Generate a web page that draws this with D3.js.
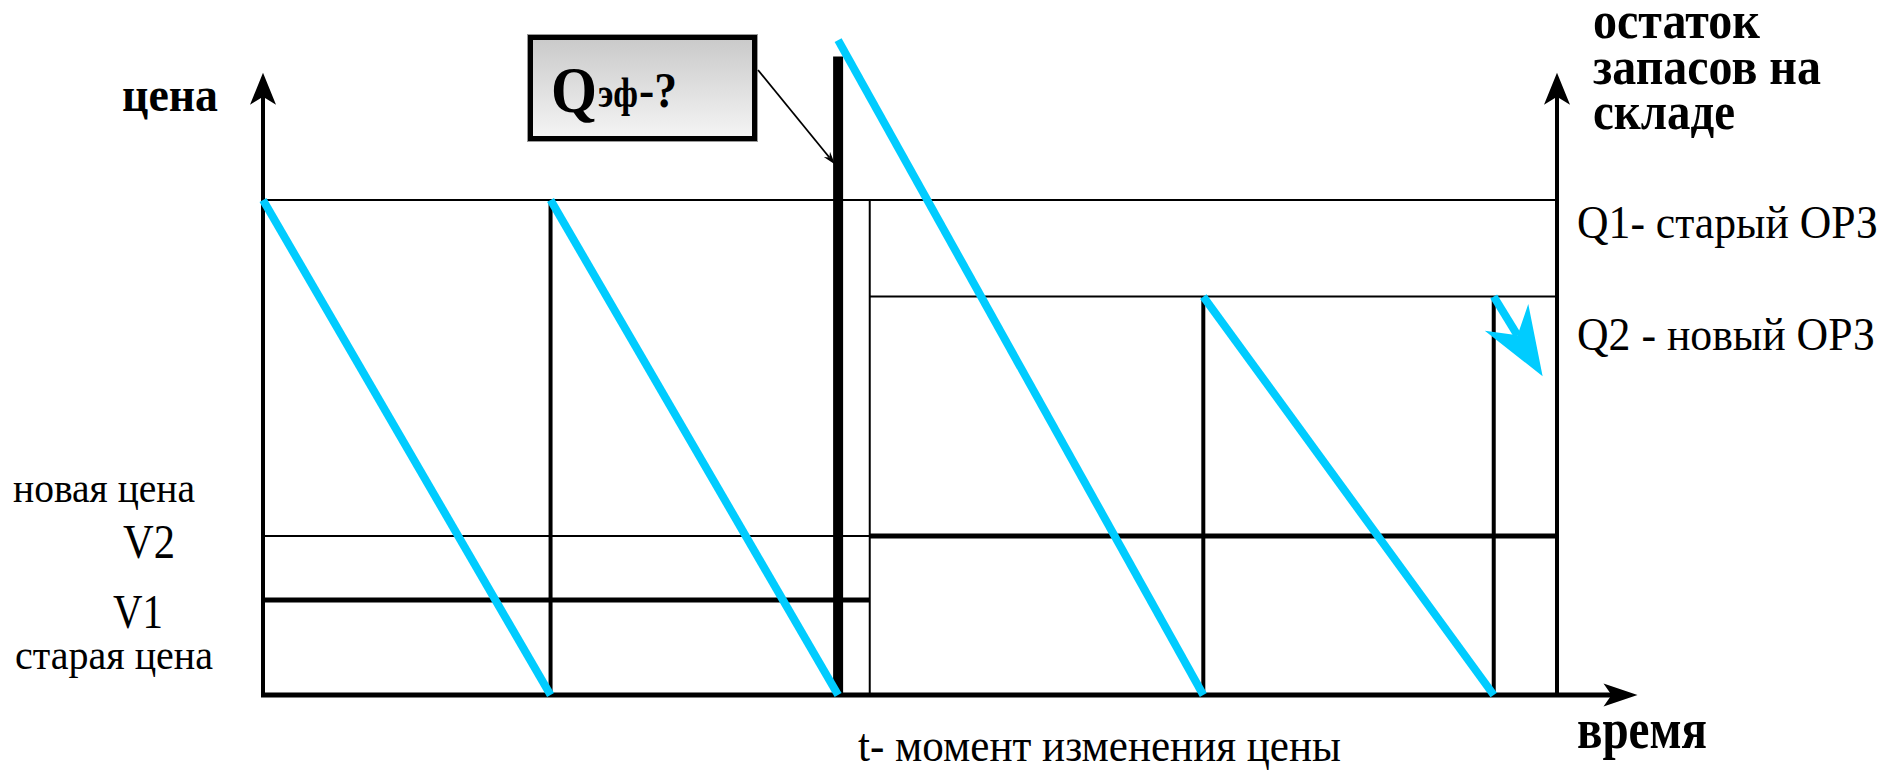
<!DOCTYPE html>
<html>
<head>
<meta charset="utf-8">
<script src="https://cdn.jsdelivr.net/npm/d3@7"></script>
<style>
  body{margin:0;background:#fff;}
  svg{display:block;}
  text{font-family:"Liberation Serif","Times New Roman",serif;fill:#000;}
</style>
</head>
<body>
<div id="container"></div>
<script>
// time along the bottom axis (days)
let tEnd = 45;            // right axis stands here
let tArrow = 47.8;        // tip of the time arrow
let tPriceChange = 21.1;  // moment the price changes

// stock levels (right axis)
let Q1 = 100;
let Q2 = 80.5;
let qAxisTop = 125.7;
let qEffTop = 129;        // top of the thick "Qэф" bar

// blue sawtooth: stock running down between deliveries
let stockStart = [0, 10, 20, 32.7];
let stockStartLevel = [100, 100, 132.3, 80.5];
let stockEnd = [10, 20, 32.7, 42.8];
// last piece, cut off and drawn as an arrow
let tailStart = [42.8, 80.5];
let tailEnd = [44.5, 64.4];

// prices (left axis, same height scale)
let V1 = 19.2;
let V2 = 32.1;

let w = 1894;
let h = 770;

let viz = d3.select("#container")
  .append("svg")
    .attr("width", w)
    .attr("height", h)
;

let xScale = d3.scaleLinear().domain([0, tEnd]).range([263, 1557]);
let yScale = d3.scaleLinear().domain([0, Q1]).range([695, 200]);

let blue = "#00ccff";

// arrow head polygon: tip, wing, notch, wing
function arrowHead(tip, from, back, half, notch){
  let dx = tip[0]-from[0], dy = tip[1]-from[1];
  let len = Math.sqrt(dx*dx+dy*dy);
  let ux = dx/len, uy = dy/len;
  let px = -uy, py = ux;
  let bx = tip[0]-ux*back, by = tip[1]-uy*back;
  return [
    tip,
    [bx+px*half, by+py*half],
    [tip[0]-ux*notch, tip[1]-uy*notch],
    [bx-px*half, by-py*half]
  ];
}

function drawLine(g, x1, y1, x2, y2, sw, col){
  g.append("line")
    .attr("x1", x1).attr("y1", y1)
    .attr("x2", x2).attr("y2", y2)
    .attr("stroke", col || "#000")
    .attr("stroke-width", sw);
}

// ---- horizontal levels ----
let hGroup = viz.append("g").classed("levels", true);
let levels = [
  {v: Q1, a: 0, b: tEnd, sw: 2},
  {v: Q2, a: tPriceChange, b: tEnd, sw: 2},
  {v: V2, a: 0, b: tPriceChange, sw: 2},
  {v: V2, a: tPriceChange, b: tEnd, sw: 5},
  {v: V1, a: 0, b: tPriceChange, sw: 5}
];
hGroup.selectAll("line").data(levels).enter().append("line")
  .attr("x1", d=>xScale(d.a))
  .attr("x2", d=>xScale(d.b))
  .attr("y1", d=>yScale(d.v))
  .attr("y2", d=>yScale(d.v))
  .attr("stroke", "#000")
  .attr("stroke-width", d=>d.sw);

// ---- verticals at deliveries ----
let vGroup = viz.append("g").classed("deliveries", true);
let deliveries = [
  {t: stockStart[1], top: stockStartLevel[1], sw: 4},
  {t: stockStart[3], top: stockStartLevel[3], sw: 4},
  {t: tailStart[0], top: tailStart[1], sw: 4},
  {t: tPriceChange, top: Q1, sw: 2},
  {t: stockStart[2], top: qEffTop, sw: 10}
];
vGroup.selectAll("line").data(deliveries).enter().append("line")
  .attr("x1", d=>xScale(d.t))
  .attr("x2", d=>xScale(d.t))
  .attr("y1", d=>yScale(d.top))
  .attr("y2", yScale(0))
  .attr("stroke", "#000")
  .attr("stroke-width", d=>d.sw);

// ---- axes ----
let axisGroup = viz.append("g").classed("axes", true);
let yTip = yScale(qAxisTop);
[0, tEnd].forEach(function(t){
  let x = xScale(t);
  let head = arrowHead([x, yTip], [x, yScale(0)], 32, 13, 24);
  drawLine(axisGroup, x, yScale(0)+2, x, yTip+20, 4);
  axisGroup.append("polygon").attr("points", head.join(" ")).attr("fill", "#000");
});
let xTip = xScale(tArrow);
drawLine(axisGroup, xScale(0)-2, yScale(0), xTip-22, yScale(0), 5);
axisGroup.append("polygon")
  .attr("points", arrowHead([xTip, yScale(0)], [xScale(0), yScale(0)], 34, 11.5, 26).join(" "))
  .attr("fill", "#000");

// ---- blue stock sawtooth ----
let stockGroup = viz.append("g").classed("stock", true);
let segs = stockStart.map(function(t, i){
  return {t0: t, q0: stockStartLevel[i], t1: stockEnd[i], q1: 0};
});
stockGroup.selectAll("line").data(segs).enter().append("line")
  .attr("x1", d=>xScale(d.t0))
  .attr("y1", d=>yScale(d.q0))
  .attr("x2", d=>xScale(d.t1))
  .attr("y2", d=>yScale(d.q1))
  .attr("stroke", blue)
  .attr("stroke-width", 8);

// the cut-off tail with its big arrow head
let tailA = [xScale(tailStart[0]), yScale(tailStart[1])];
let tailB = [xScale(tailEnd[0]), yScale(tailEnd[1])];
let tailHead = arrowHead(tailB, tailA, 69, 25.5, 48);
drawLine(stockGroup, tailA[0], tailA[1], tailHead[2][0], tailHead[2][1], 8, blue);
stockGroup.append("polygon").attr("points", tailHead.join(" ")).attr("fill", blue);

// ---- the "Qэф-?" box ----
let defs = viz.append("defs");
let grad = defs.append("linearGradient").attr("id", "boxFill")
  .attr("x1", 0).attr("y1", 0).attr("x2", 0).attr("y2", 1);
grad.append("stop").attr("offset", "0%").attr("stop-color", "#c8c8c8");
grad.append("stop").attr("offset", "100%").attr("stop-color", "#f6f6f6");

let box = viz.append("g").classed("qbox", true);
box.append("rect")
  .attr("x", 527.5).attr("y", 34.5).attr("width", 230).attr("height", 107)
  .attr("fill", "url(#boxFill)")
  .attr("stroke", "#9a9a9a").attr("stroke-width", 1);
box.append("rect")
  .attr("x", 530.5).attr("y", 37.5).attr("width", 224).attr("height", 101)
  .attr("fill", "none")
  .attr("stroke", "#000").attr("stroke-width", 5);

function label(g, str, x, y, size, bold, len){
  g.append("text")
    .attr("x", x).attr("y", y)
    .attr("font-size", size)
    .attr("font-weight", bold ? "bold" : "normal")
    .attr("textLength", len)
    .attr("lengthAdjust", "spacingAndGlyphs")
    .text(str);
}
label(box, "Q", 551, 112, 66, true, 46);
label(box, "эф", 598, 107, 42, true, 40);
label(box, "-?", 639, 107, 50, true, 38);

// pointer from the box to the thick bar
let pFrom = [758, 70];
let pTip = [xScale(stockStart[2]) - 3, yScale(qEffTop) + 108];
let pHead = arrowHead(pTip, pFrom, 13, 4, 9);
drawLine(box, pFrom[0], pFrom[1], pHead[2][0], pHead[2][1], 1.8);
box.append("polygon").attr("points", pHead.join(" ")).attr("fill", "#000");

// ---- texts ----
let texts = viz.append("g").classed("labels", true);
label(texts, "цена", 122, 111, 48, true, 96);
label(texts, "остаток", 1593, 38, 52, true, 167);
label(texts, "запасов на", 1593, 84, 52, true, 228);
label(texts, "складе", 1593, 129, 52, true, 142);
label(texts, "Q1- старый ОРЗ", 1577, 238, 46, false, 301);
label(texts, "Q2 - новый ОРЗ", 1577, 350, 46, false, 298);
label(texts, "новая цена", 13, 502, 42, false, 182);
label(texts, "V2", 123, 558, 48, false, 52);
label(texts, "V1", 113, 628, 48, false, 50);
label(texts, "старая цена", 15, 669, 42, false, 198);
label(texts, "t- момент изменения цены", 858, 761, 46, false, 483);
label(texts, "время", 1577, 748, 58, true, 130);
</script>
</body>
</html>
